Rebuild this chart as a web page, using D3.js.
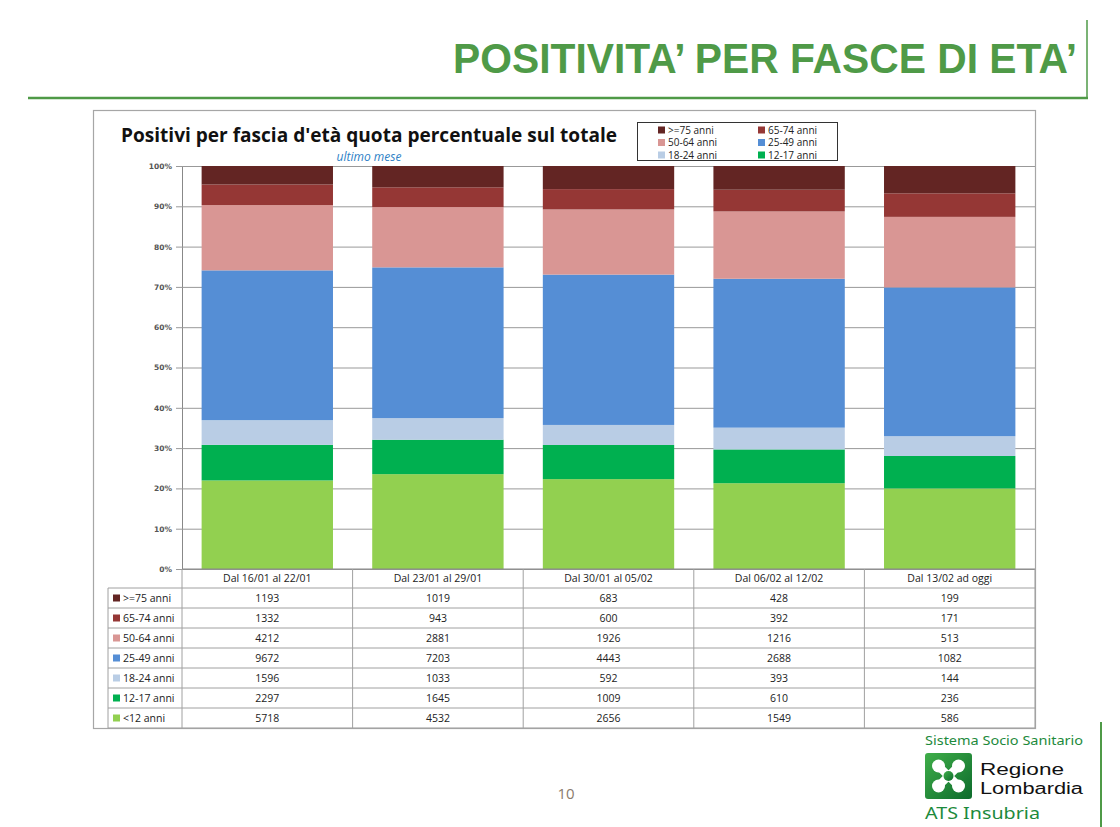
<!DOCTYPE html>
<html>
<head>
<meta charset="utf-8">
<script src="https://cdn.jsdelivr.net/npm/d3@7"></script>
<style>
  html, body { margin: 0; padding: 0; background: #fff; }
  svg { display: block; }
</style>
</head>
<body>
<svg id="slide" width="1120" height="827"></svg>
<script>
const periods = ["Dal 16/01 al 22/01", "Dal 23/01 al 29/01", "Dal 30/01 al 05/02", "Dal 06/02 al 12/02", "Dal 13/02 ad oggi"];
const ageGroups = [">=75 anni", "65-74 anni", "50-64 anni", "25-49 anni", "18-24 anni", "12-17 anni", "<12 anni"];
const groupColors = ["#632523", "#953735", "#d99694", "#558ed5", "#b9cde5", "#00b050", "#92d050"];
const over75 = [1193, 1019, 683, 428, 199];
const age65to74 = [1332, 943, 600, 392, 171];
const age50to64 = [4212, 2881, 1926, 1216, 513];
const age25to49 = [9672, 7203, 4443, 2688, 1082];
const age18to24 = [1596, 1033, 592, 393, 144];
const age12to17 = [2297, 1645, 1009, 610, 236];
const under12 = [5718, 4532, 2656, 1549, 586];
const yTicks = [0, 0.1, 0.2, 0.3, 0.4, 0.5, 0.6, 0.7, 0.8, 0.9, 1];

// righe della tabella, nello stesso ordine della legenda (dall'alto)
const seriesValues = [over75, age65to74, age50to64, age25to49, age18to24, age12to17, under12];

const svg = d3.select("#slide");
const green = "#4f9a47";

// intestazione della slide
svg.append("text")
    .attr("x", 1077).attr("y", 73)
    .attr("text-anchor", "end")
    .attr("textLength", 624).attr("lengthAdjust", "spacingAndGlyphs")
    .style("font-family", "'Liberation Sans Narrow', 'Liberation Sans', Arial, sans-serif")
    .style("font-weight", "bold")
    .style("font-size", "43px")
    .style("fill", green)
    .text("POSITIVITA\u2019 PER FASCE DI ETA\u2019");

svg.append("line").attr("x1", 28).attr("x2", 1088).attr("y1", 98).attr("y2", 98)
    .attr("stroke", green).attr("stroke-width", 2.5);
svg.append("line").attr("x1", 1087).attr("x2", 1087).attr("y1", 20).attr("y2", 99)
    .attr("stroke", green).attr("stroke-width", 1.5);
svg.append("line").attr("x1", 1101).attr("x2", 1101).attr("y1", 722).attr("y2", 827)
    .attr("stroke", green).attr("stroke-width", 2);

// cornice del grafico
svg.append("rect")
    .attr("x", 93.5).attr("y", 110.5).attr("width", 942).attr("height", 618)
    .attr("fill", "#fff").attr("stroke", "#a6a6a6").attr("stroke-width", 1.2);

svg.append("text")
    .attr("x", 121).attr("y", 142)
    .attr("textLength", 496).attr("lengthAdjust", "spacingAndGlyphs")
    .style("font-family", "'Open Sans', Lato, sans-serif")
    .style("font-weight", "bold")
    .style("font-size", "19px")
    .style("fill", "#111")
    .text("Positivi per fascia d'et\u00e0 quota percentuale sul totale");

svg.append("text")
    .attr("x", 369).attr("y", 161)
    .attr("text-anchor", "middle")
    .style("font-family", "'Open Sans', Lato, sans-serif")
    .style("font-style", "italic")
    .style("font-size", "12px")
    .style("fill", "#2e7fc6")
    .text("ultimo mese");

// scale
const plotLeft = 182, plotRight = 1035, plotTop = 166, plotBottom = 569;

const x = d3.scaleBand()
    .domain(periods)
    .range([plotLeft, plotRight])
    .paddingInner(0.23)
    .paddingOuter(0.115);

const y = d3.scaleLinear()
    .domain([0, 1])
    .range([plotBottom, plotTop]);

// griglia e asse y
const yAxis = svg.append("g")
    .attr("transform", `translate(${plotLeft},0)`)
    .call(d3.axisLeft(y).tickValues(yTicks).tickFormat(d3.format(".0%"))
        .tickSize(-(plotRight - plotLeft)).tickSizeOuter(0).tickPadding(10));
yAxis.select(".domain").attr("stroke", "#888");
yAxis.selectAll(".tick line").attr("stroke", "#999").attr("x1", -6);
yAxis.selectAll(".tick text")
    .style("font-family", "'DejaVu Sans', sans-serif")
    .style("font-size", "7.5px")
    .style("font-weight", "bold")
    .style("fill", "#555");

// barre impilate (in percentuale)
const stackKeys = ageGroups.slice().reverse();
const rows = periods.map((p, i) => {
    const r = { period: p };
    ageGroups.forEach((g, k) => { r[g] = seriesValues[k][i]; });
    return r;
});
const stacked = d3.stack().keys(stackKeys).offset(d3.stackOffsetExpand)(rows);

svg.append("g")
    .selectAll("g")
    .data(stacked)
    .join("g")
    .attr("fill", d => groupColors[ageGroups.indexOf(d.key)])
    .selectAll("rect")
    .data(d => d)
    .join("rect")
    .attr("x", d => x(d.data.period))
    .attr("width", x.bandwidth())
    .attr("y", d => y(d[1]))
    .attr("height", d => y(d[0]) - y(d[1]));

// legenda
const legend = svg.append("g");
legend.append("rect")
    .attr("x", 637.5).attr("y", 122.5).attr("width", 200).attr("height", 38)
    .attr("fill", "#fff").attr("stroke", "#333").attr("stroke-width", 1);
ageGroups.slice(0, 6).forEach((g, i) => {
    const lx = 658 + (i % 2) * 100;
    const ly = 130 + Math.floor(i / 2) * 12.5;
    legend.append("rect")
        .attr("x", lx).attr("y", ly - 3.5).attr("width", 7).attr("height", 7)
        .attr("fill", groupColors[i]);
    legend.append("text")
        .attr("x", lx + 10).attr("y", ly + 3.5)
        .style("font-family", "'Liberation Sans Narrow', 'Open Sans', sans-serif")
        .style("font-size", "10px")
        .style("fill", "#222")
        .text(g);
});

// tabella dati
const headerTop = plotBottom, rowTop = 588, rowH = 20, labelLeft = 108;
const tableBottom = rowTop + rowH * ageGroups.length;
const table = svg.append("g");
const lineColor = "#a0a0a0";
const tableFont = "'Open Sans', Lato, sans-serif";

// linee orizzontali
table.append("line").attr("x1", plotLeft).attr("x2", plotRight)
    .attr("y1", headerTop).attr("y2", headerTop).attr("stroke", "#888");
d3.range(ageGroups.length + 1).forEach(i => {
    table.append("line")
        .attr("x1", labelLeft).attr("x2", plotRight)
        .attr("y1", rowTop + i * rowH).attr("y2", rowTop + i * rowH)
        .attr("stroke", lineColor);
});
// linee verticali
table.append("line").attr("x1", labelLeft).attr("x2", labelLeft)
    .attr("y1", rowTop).attr("y2", tableBottom).attr("stroke", lineColor);
const colEdges = [plotLeft].concat(periods.map(p => x(p) + x.bandwidth() + x.step() * x.paddingInner() / 2));
colEdges[colEdges.length - 1] = plotRight;
colEdges.forEach(cx => {
    table.append("line").attr("x1", cx).attr("x2", cx)
        .attr("y1", headerTop).attr("y2", tableBottom).attr("stroke", lineColor);
});

// intestazioni di colonna
periods.forEach((p, i) => {
    table.append("text")
        .attr("x", (colEdges[i] + colEdges[i + 1]) / 2)
        .attr("y", headerTop + 13)
        .attr("text-anchor", "middle")
        .style("font-family", tableFont)
        .style("font-size", "10.5px")
        .style("fill", "#222")
        .text(p);
});

// righe
ageGroups.forEach((g, k) => {
    const cy = rowTop + k * rowH + rowH / 2;
    table.append("rect")
        .attr("x", 113).attr("y", cy - 3.5).attr("width", 7).attr("height", 7)
        .attr("fill", groupColors[k]);
    table.append("text")
        .attr("x", 123).attr("y", cy + 4)
        .style("font-family", tableFont)
        .style("font-size", "10.5px")
        .style("fill", "#222")
        .text(g);
    seriesValues[k].forEach((v, i) => {
        table.append("text")
            .attr("x", (colEdges[i] + colEdges[i + 1]) / 2)
            .attr("y", cy + 4)
            .attr("text-anchor", "middle")
            .style("font-family", tableFont)
            .style("font-size", "10.5px")
            .style("fill", "#222")
            .text(v);
    });
});

// numero di pagina
svg.append("text")
    .attr("x", 566).attr("y", 799)
    .attr("text-anchor", "middle")
    .style("font-family", "'Open Sans', sans-serif")
    .style("font-size", "15px")
    .style("fill", "#8a7b6c")
    .text("10");

// logo Regione Lombardia / ATS Insubria
const logo = svg.append("g");
const defs = svg.append("defs");
const grad = defs.append("linearGradient").attr("id", "logoGrad")
    .attr("x1", 0).attr("y1", 0).attr("x2", 1).attr("y2", 1);
grad.append("stop").attr("offset", "0%").attr("stop-color", "#3fae49");
grad.append("stop").attr("offset", "100%").attr("stop-color", "#0d6b2c");

logo.append("text")
    .attr("x", 925).attr("y", 745)
    .attr("textLength", 158).attr("lengthAdjust", "spacingAndGlyphs")
    .style("font-family", "'Noto Sans', sans-serif")
    .style("font-size", "12.5px")
    .style("fill", "#1d8a3c")
    .text("Sistema Socio Sanitario");

logo.append("rect")
    .attr("x", 925).attr("y", 753).attr("width", 47).attr("height", 46).attr("rx", 3)
    .attr("fill", "url(#logoGrad)");
const rosa = logo.append("g").attr("transform", "translate(948.5,776)").attr("fill", "#fff");
[[-1, -1], [1, -1], [-1, 1], [1, 1]].forEach(([sx, sy]) => {
    rosa.append("circle").attr("cx", sx * 10).attr("cy", sy * 10).attr("r", 6.5);
});
rosa.append("rect").attr("x", -13).attr("y", -4).attr("width", 26).attr("height", 8)
    .attr("transform", "rotate(45)");
rosa.append("rect").attr("x", -13).attr("y", -4).attr("width", 26).attr("height", 8)
    .attr("transform", "rotate(-45)");
rosa.append("circle").attr("r", 5).attr("fill", "url(#logoGrad)");

logo.append("text")
    .attr("x", 980).attr("y", 775)
    .attr("textLength", 84).attr("lengthAdjust", "spacingAndGlyphs")
    .style("font-family", "'Liberation Sans', sans-serif")
    .style("font-size", "16px")
    .style("fill", "#111")
    .text("Regione");
logo.append("text")
    .attr("x", 980).attr("y", 794)
    .attr("textLength", 103).attr("lengthAdjust", "spacingAndGlyphs")
    .style("font-family", "'Liberation Sans', sans-serif")
    .style("font-size", "16px")
    .style("fill", "#111")
    .text("Lombardia");
logo.append("text")
    .attr("x", 925).attr("y", 819)
    .attr("textLength", 115).attr("lengthAdjust", "spacingAndGlyphs")
    .style("font-family", "'Noto Sans', sans-serif")
    .style("font-size", "17px")
    .style("fill", "#1d8a3c")
    .text("ATS Insubria");
</script>
</body>
</html>
